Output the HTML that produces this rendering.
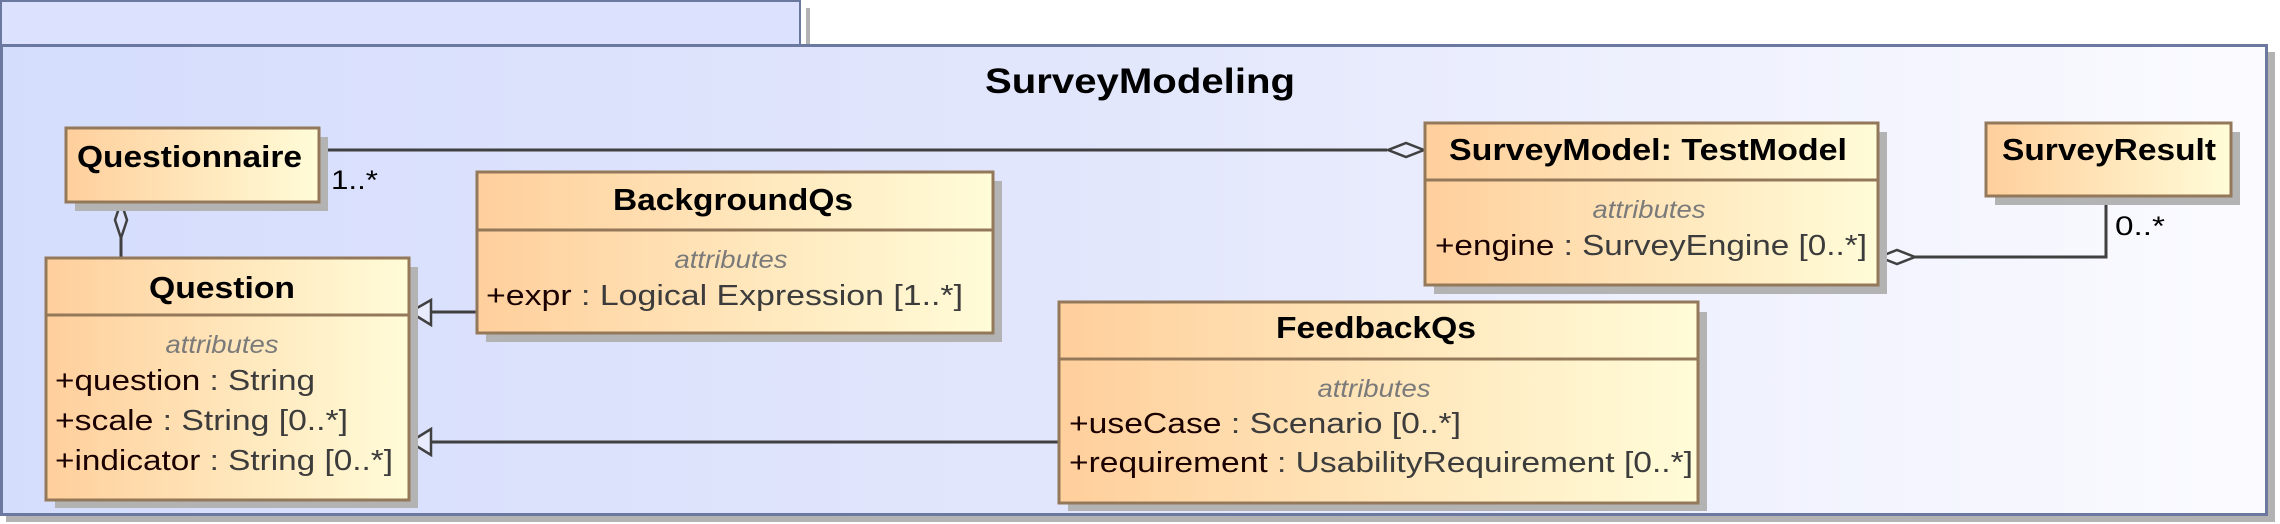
<!DOCTYPE html>
<html><head><meta charset="utf-8"><style>
html,body{margin:0;padding:0;background:#fff;}
svg{display:block;}
text{font-family:"Liberation Sans",Arial,sans-serif;}
.t{font-weight:bold;font-size:31px;fill:#000;}
.a{font-style:italic;font-size:25px;fill:#7a7a7a;}
.r{font-size:29px;fill:#3c3c3c;}
.n{fill:#1a0000;}
</style></head><body>
<svg width="2280" height="524" viewBox="0 0 2280 524" xmlns="http://www.w3.org/2000/svg">
<defs>
<linearGradient id="fr" x1="0" y1="0" x2="1" y2="0">
<stop offset="0" stop-color="#d5ddfd"/><stop offset="0.5" stop-color="#e3e7fc"/><stop offset="1" stop-color="#fbfbff"/>
</linearGradient>
<linearGradient id="bx" x1="0" y1="0" x2="1" y2="0">
<stop offset="0" stop-color="#ffcf9c"/><stop offset="1" stop-color="#fffcd8"/>
</linearGradient>
</defs>
<rect x="6" y="52" width="2269" height="470" fill="#b3b3b3"/>
<rect x="806" y="8" width="4" height="40" fill="#b3b3b3"/>
<rect x="1" y="1" width="799" height="45" fill="#dce2fd" stroke="#6b789f" stroke-width="2"/>
<rect x="1.5" y="45.5" width="2265" height="469" fill="url(#fr)" stroke="#6b789f" stroke-width="3"/>
<text x="1140" y="93" text-anchor="middle" class="t" style="font-size:35px" textLength="310" lengthAdjust="spacingAndGlyphs">SurveyModeling</text>

<g stroke="#404040" stroke-width="3" fill="none">
<line x1="320" y1="150" x2="1387" y2="150"/>
<line x1="121" y1="238" x2="121" y2="257"/>
<line x1="430" y1="312" x2="476" y2="312"/>
<line x1="430" y1="442" x2="1058" y2="442"/>
<polyline points="1915,257 2106,257 2106,197"/>
</g>
<g stroke="#404040" stroke-width="2.5" fill="#e8ecfd">
<polygon points="1424,150 1406,143 1388,150 1406,157"/>
<polygon points="121,202 127,220 121,238 115,220" fill="#dde3fd"/>
<polygon points="410,312 431,300 431,325"/>
<polygon points="410,442 431,429 431,455"/>
<polygon points="1879,257 1897,250 1915,257 1897,264" fill="#f5f6fe"/>
</g>
<text x="331" y="189" style="font-size:27px" fill="#000" textLength="47" lengthAdjust="spacingAndGlyphs">1..*</text>
<text x="2115" y="235" style="font-size:27px" fill="#000" textLength="50" lengthAdjust="spacingAndGlyphs">0..*</text>

<g fill="#b3b3b3">
<rect x="75" y="137" width="253" height="74"/>
<rect x="55" y="267" width="363" height="241"/>
<rect x="486" y="181" width="516" height="161"/>
<rect x="1068" y="312" width="639" height="199"/>
<rect x="1434" y="132" width="453" height="162"/>
<rect x="1995" y="132" width="245" height="73"/>
</g>

<g stroke="#94785a" stroke-width="3" fill="url(#bx)">
<rect x="66" y="128" width="253" height="74"/>
<rect x="46" y="258" width="363" height="242"/>
<rect x="477" y="172" width="516" height="161"/>
<rect x="1059" y="302" width="639" height="201"/>
<rect x="1425" y="123" width="453" height="162"/>
<rect x="1986" y="123" width="245" height="73"/>
</g>
<g stroke="#94785a" stroke-width="3">
<line x1="46" y1="315" x2="409" y2="315"/>
<line x1="477" y1="230" x2="993" y2="230"/>
<line x1="1059" y1="359" x2="1698" y2="359"/>
<line x1="1425" y1="180" x2="1878" y2="180"/>
</g>

<text x="77" y="167" class="t" textLength="225" lengthAdjust="spacingAndGlyphs">Questionnaire</text>
<text x="222" y="298" class="t" text-anchor="middle" textLength="146" lengthAdjust="spacingAndGlyphs">Question</text>
<text x="222" y="353" class="a" text-anchor="middle" textLength="113" lengthAdjust="spacingAndGlyphs">attributes</text>
<text x="55" y="390" class="r" textLength="260" lengthAdjust="spacingAndGlyphs"><tspan class="n">+question</tspan> : String</text>
<text x="55" y="430" class="r" textLength="293" lengthAdjust="spacingAndGlyphs"><tspan class="n">+scale</tspan> : String [0..*]</text>
<text x="55" y="470" class="r" textLength="338" lengthAdjust="spacingAndGlyphs"><tspan class="n">+indicator</tspan> : String [0..*]</text>
<text x="733" y="210" class="t" text-anchor="middle" textLength="240" lengthAdjust="spacingAndGlyphs">BackgroundQs</text>
<text x="731" y="268" class="a" text-anchor="middle" textLength="113" lengthAdjust="spacingAndGlyphs">attributes</text>
<text x="486" y="305" class="r" textLength="477" lengthAdjust="spacingAndGlyphs"><tspan class="n">+expr</tspan> : Logical Expression [1..*]</text>
<text x="1376" y="338" class="t" text-anchor="middle" textLength="200" lengthAdjust="spacingAndGlyphs">FeedbackQs</text>
<text x="1374" y="397" class="a" text-anchor="middle" textLength="113" lengthAdjust="spacingAndGlyphs">attributes</text>
<text x="1069" y="433" class="r" textLength="392" lengthAdjust="spacingAndGlyphs"><tspan class="n">+useCase</tspan> : Scenario [0..*]</text>
<text x="1069" y="472" class="r" textLength="624" lengthAdjust="spacingAndGlyphs"><tspan class="n">+requirement</tspan> : UsabilityRequirement [0..*]</text>
<text x="1449" y="160" class="t" textLength="398" lengthAdjust="spacingAndGlyphs">SurveyModel: TestModel</text>
<text x="1649" y="218" class="a" text-anchor="middle" textLength="113" lengthAdjust="spacingAndGlyphs">attributes</text>
<text x="1435" y="255" class="r" textLength="432" lengthAdjust="spacingAndGlyphs"><tspan class="n">+engine</tspan> : SurveyEngine [0..*]</text>
<text x="2002" y="160" class="t" textLength="214" lengthAdjust="spacingAndGlyphs">SurveyResult</text>
</svg>
</body></html>
